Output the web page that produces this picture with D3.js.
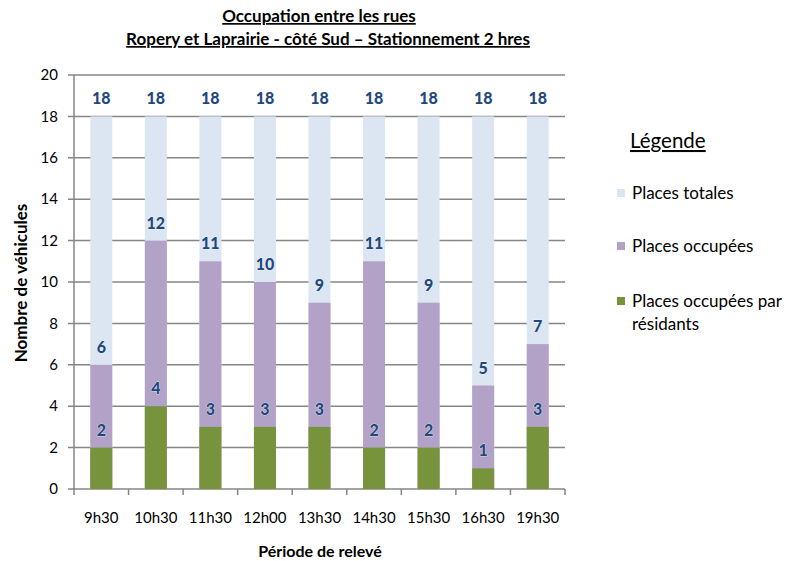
<!DOCTYPE html>
<html><head><meta charset="utf-8">
<script src="https://cdn.jsdelivr.net/npm/d3@7"></script>
<style>
body{margin:0;background:#fff;}
svg text{font-family:Lato,"Noto Sans",sans-serif;}
</style></head>
<body><svg id="c" width="788" height="561"></svg>
<script>
const periods = ["9h30","10h30","11h30","12h00","13h30","14h30","15h30","16h30","19h30"];
const totalPlaces = [18,18,18,18,18,18,18,18,18];
const occupiedPlaces = [6,12,11,10,9,11,9,5,7];
const residentPlaces = [2,4,3,3,3,2,2,1,3];
const yTicks = [0,2,4,6,8,10,12,14,16,18,20];
const seriesNames = ["Places totales","Places occupées","Places occupées par résidants"];
const seriesColors = ["#DCE6F2","#B3A2C7","#77933C"];
const titleLines = ["Occupation entre les rues","Ropery et Laprairie - côté Sud – Stationnement 2 hres"];

const svg = d3.select("#c");
const m = {l:74, r:565, t:75, b:489};
const xb = d3.scaleBand().domain(periods).range([m.l, m.r]);
const y = d3.scaleLinear().domain([0,20]).range([m.b, m.t]);

// grid
svg.append("g").selectAll("line").data(yTicks).join("line")
  .attr("x1", m.l-6).attr("x2", m.r).attr("y1", d=>y(d)).attr("y2", d=>y(d))
  .attr("stroke","#868686").attr("stroke-width",1.5);
// y axis line
svg.append("line").attr("x1",m.l).attr("x2",m.l).attr("y1",m.t).attr("y2",m.b)
  .attr("stroke","#868686").attr("stroke-width",1.5);
// x ticks
const xt = periods.map((p,i)=>xb(p)).concat([m.r]);
svg.append("g").selectAll("line").data(xt).join("line")
  .attr("x1",d=>d).attr("x2",d=>d).attr("y1",m.b).attr("y2",m.b+6)
  .attr("stroke","#868686").attr("stroke-width",1.5);
// y labels
svg.append("g").selectAll("text").data(yTicks).join("text")
  .attr("x", 58).attr("y", d=>y(d)).attr("dy","0.35em").attr("text-anchor","end")
  .attr("font-size",15).attr("fill","#000").text(d=>d);
// x labels
svg.append("g").selectAll("text").data(periods).join("text")
  .attr("x", d=>xb(d)+xb.bandwidth()/2).attr("y", 523).attr("text-anchor","middle")
  .attr("font-size",15).attr("fill","#000").text(d=>d);

// bars
const series = [totalPlaces, occupiedPlaces, residentPlaces];
series.forEach((vals,si)=>{
  svg.append("g").selectAll("rect").data(vals).join("rect")
    .attr("x",(d,i)=>xb(periods[i])+xb.bandwidth()/2-11).attr("width",22)
    .attr("y",d=>y(d)).attr("height",d=>m.b-y(d)).attr("fill",seriesColors[si]);
});
// labels
series.forEach((vals,si)=>{
  svg.append("g").selectAll("text").data(vals).join("text")
    .attr("x",(d,i)=>xb(periods[i])+xb.bandwidth()/2).attr("y",d=>y(d)-12)
    .attr("text-anchor","middle").attr("font-size",16).attr("font-weight",900)
    .attr("fill","#1F497D").attr("stroke","#ffffff").attr("stroke-width",0.6).attr("paint-order","stroke")
    .text(d=>d);
});

// axis titles
svg.append("text").attr("x",320).attr("y",557).attr("text-anchor","middle")
  .attr("font-size",16).attr("font-weight","bold").text("Période de relevé");
svg.append("text").attr("transform","translate(27,283) rotate(-90)").attr("text-anchor","middle")
  .attr("font-size",17).attr("font-weight","bold").text("Nombre de véhicules");

// title
svg.append("g").selectAll("text").data(titleLines).join("text")
  .attr("x",(d,i)=>i===0?319:328).attr("y",(d,i)=>22+i*23).attr("text-anchor","middle")
  .attr("font-size",17).attr("font-weight","bold").attr("text-decoration","underline").text(d=>d);

// legend
svg.append("text").attr("x",630).attr("y",148).attr("font-size",20.5)
  .attr("text-decoration","underline").text("Légende");
const ly = [193,246,301];
const lg = svg.append("g");
seriesNames.forEach((n,i)=>{
  lg.append("rect").attr("x",617).attr("y",ly[i]-4).attr("width",8).attr("height",8).attr("fill",seriesColors[i]);
});
lg.append("text").attr("x",632).attr("y",199).attr("font-size",17).text(seriesNames[0]);
lg.append("text").attr("x",632).attr("y",252).attr("font-size",17).text(seriesNames[1]);
const t3 = lg.append("text").attr("x",632).attr("y",307).attr("font-size",17);
t3.append("tspan").text("Places occupées par");
t3.append("tspan").attr("x",632).attr("dy",23).text("résidants");
</script></body></html>
